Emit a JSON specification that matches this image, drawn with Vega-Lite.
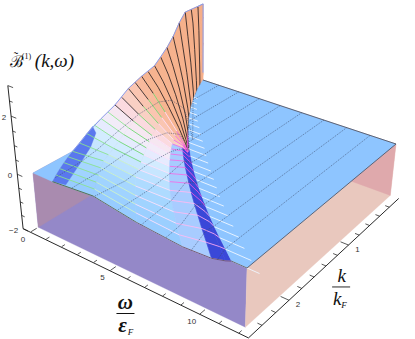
{"$schema":"https://vega.github.io/schema/vega-lite/v6.json","width":415,"height":339,"padding":0,"autosize":"none","background":"white","config":{"view":{"stroke":null}},
"datasets":{"grid":[
{"id":0,"w":0,"k":0,"b":3},{"id":1,"w":0,"k":0,"b":3},{"id":2,"w":0,"k":0,"b":2.5},{"id":3,"w":0,"k":0,"b":1.5},{"id":4,"w":0,"k":0,"b":0.3},{"id":5,"w":0,"k":0,"b":-1},{"id":6,"w":0,"k":0,"b":0},
{"id":100,"w":0,"k":0.1,"b":3},{"id":101,"w":0.05,"k":0.1,"b":3},{"id":102,"w":0.11,"k":0.1,"b":2.1},{"id":103,"w":0.16,"k":0.1,"b":0.8},{"id":104,"w":0.19,"k":0.1,"b":-0.4},{"id":105,"w":0.2,"k":0.1,"b":-1.6},{"id":106,"w":0.21,"k":0.1,"b":0},
{"id":200,"w":0,"k":0.2,"b":3},{"id":201,"w":0.11,"k":0.2,"b":2.5},{"id":202,"w":0.22,"k":0.2,"b":1.5},{"id":203,"w":0.33,"k":0.2,"b":0.3},{"id":204,"w":0.4,"k":0.2,"b":-0.9},{"id":205,"w":0.43,"k":0.2,"b":-1.9},{"id":206,"w":0.44,"k":0.2,"b":0},
{"id":300,"w":0,"k":0.3,"b":3},{"id":301,"w":0.17,"k":0.3,"b":2.1},{"id":302,"w":0.35,"k":0.3,"b":1.15},{"id":303,"w":0.52,"k":0.3,"b":0},{"id":304,"w":0.62,"k":0.3,"b":-1.2},{"id":305,"w":0.67,"k":0.3,"b":-1.9},{"id":306,"w":0.69,"k":0.3,"b":0},
{"id":400,"w":0,"k":0.4,"b":2.7},{"id":401,"w":0.24,"k":0.4,"b":1.8},{"id":402,"w":0.48,"k":0.4,"b":0.9},{"id":403,"w":0.72,"k":0.4,"b":-0.2},{"id":404,"w":0.86,"k":0.4,"b":-1.3},{"id":405,"w":0.93,"k":0.4,"b":-1.85},{"id":406,"w":0.96,"k":0.4,"b":0},
{"id":500,"w":0,"k":0.5,"b":2.3},{"id":501,"w":0.31,"k":0.5,"b":1.55},{"id":502,"w":0.63,"k":0.5,"b":0.72},{"id":503,"w":0.94,"k":0.5,"b":-0.3},{"id":504,"w":1.13,"k":0.5,"b":-1.3},{"id":505,"w":1.21,"k":0.5,"b":-1.75},{"id":506,"w":1.25,"k":0.5,"b":0},
{"id":600,"w":0,"k":0.6,"b":2},{"id":601,"w":0.39,"k":0.6,"b":1.35},{"id":602,"w":0.78,"k":0.6,"b":0.6},{"id":603,"w":1.17,"k":0.6,"b":-0.35},{"id":604,"w":1.4,"k":0.6,"b":-1.2},{"id":605,"w":1.51,"k":0.6,"b":-1.6},{"id":606,"w":1.56,"k":0.6,"b":0},
{"id":700,"w":0,"k":0.7,"b":1.75},{"id":701,"w":0.47,"k":0.7,"b":1.2},{"id":702,"w":0.95,"k":0.7,"b":0.5},{"id":703,"w":1.42,"k":0.7,"b":-0.35},{"id":704,"w":1.7,"k":0.7,"b":-1.05},{"id":705,"w":1.83,"k":0.7,"b":-1.4},{"id":706,"w":1.89,"k":0.7,"b":0},
{"id":800,"w":0,"k":0.8,"b":1.55},{"id":801,"w":0.56,"k":0.8,"b":1.05},{"id":802,"w":1.12,"k":0.8,"b":0.42},{"id":803,"w":1.68,"k":0.8,"b":-0.32},{"id":804,"w":2.02,"k":0.8,"b":-0.9},{"id":805,"w":2.17,"k":0.8,"b":-1.2},{"id":806,"w":2.24,"k":0.8,"b":0},
{"id":900,"w":0,"k":0.9,"b":1.45},{"id":901,"w":0.65,"k":0.9,"b":0.98},{"id":902,"w":1.31,"k":0.9,"b":0.38},{"id":903,"w":1.96,"k":0.9,"b":-0.28},{"id":904,"w":2.35,"k":0.9,"b":-0.75},{"id":905,"w":2.53,"k":0.9,"b":-1},{"id":906,"w":2.61,"k":0.9,"b":0},
{"id":1000,"w":0,"k":1,"b":1.4},{"id":1001,"w":0.75,"k":1,"b":0.9},{"id":1002,"w":1.5,"k":1,"b":0.35},{"id":1003,"w":2.25,"k":1,"b":-0.22},{"id":1004,"w":2.7,"k":1,"b":-0.6},{"id":1005,"w":2.91,"k":1,"b":-0.82},{"id":1006,"w":3,"k":1,"b":0},
{"id":1100,"w":0,"k":1.1,"b":1.3},{"id":1101,"w":0.85,"k":1.1,"b":0.82},{"id":1102,"w":1.71,"k":1.1,"b":0.32},{"id":1103,"w":2.56,"k":1.1,"b":-0.18},{"id":1104,"w":3.07,"k":1.1,"b":-0.4},{"id":1105,"w":3.31,"k":1.1,"b":-0.6},{"id":1106,"w":3.41,"k":1.1,"b":0},
{"id":1200,"w":0,"k":1.2,"b":1.2},{"id":1201,"w":0.96,"k":1.2,"b":0.72},{"id":1202,"w":1.92,"k":1.2,"b":0.28},{"id":1203,"w":2.88,"k":1.2,"b":-0.12},{"id":1204,"w":3.46,"k":1.2,"b":-0.2},{"id":1205,"w":3.72,"k":1.2,"b":-0.35},{"id":1206,"w":3.84,"k":1.2,"b":0},
{"id":1300,"w":0,"k":1.3,"b":1},{"id":1301,"w":1.07,"k":1.3,"b":0.6},{"id":1302,"w":2.15,"k":1.3,"b":0.25},{"id":1303,"w":3.22,"k":1.3,"b":-0.05},{"id":1304,"w":3.86,"k":1.3,"b":-0.05},{"id":1305,"w":4.16,"k":1.3,"b":-0.15},{"id":1306,"w":4.29,"k":1.3,"b":0},
{"id":1400,"w":0,"k":1.4,"b":0.85},{"id":1401,"w":1.19,"k":1.4,"b":0.5},{"id":1402,"w":2.38,"k":1.4,"b":0.22},{"id":1403,"w":3.57,"k":1.4,"b":0},{"id":1404,"w":4.28,"k":1.4,"b":0.08},{"id":1405,"w":4.62,"k":1.4,"b":-0.02},{"id":1406,"w":4.76,"k":1.4,"b":0},
{"id":1500,"w":0,"k":1.5,"b":0.72},{"id":1501,"w":1.31,"k":1.5,"b":0.42},{"id":1502,"w":2.63,"k":1.5,"b":0.2},{"id":1503,"w":3.94,"k":1.5,"b":0.05},{"id":1504,"w":4.73,"k":1.5,"b":0.18},{"id":1505,"w":5.09,"k":1.5,"b":0.05},{"id":1506,"w":5.25,"k":1.5,"b":0},
{"id":1600,"w":0,"k":1.6,"b":0.62},{"id":1601,"w":1.44,"k":1.6,"b":0.35},{"id":1602,"w":2.88,"k":1.6,"b":0.18},{"id":1603,"w":4.32,"k":1.6,"b":0.08},{"id":1604,"w":5.18,"k":1.6,"b":0.24},{"id":1605,"w":5.59,"k":1.6,"b":0.08},{"id":1606,"w":5.76,"k":1.6,"b":0},
{"id":1700,"w":0,"k":1.7,"b":0.53},{"id":1701,"w":1.57,"k":1.7,"b":0.28},{"id":1702,"w":3.15,"k":1.7,"b":0.14},{"id":1703,"w":4.72,"k":1.7,"b":0.1},{"id":1704,"w":5.66,"k":1.7,"b":0.28},{"id":1705,"w":6.1,"k":1.7,"b":0.1},{"id":1706,"w":6.29,"k":1.7,"b":0},
{"id":1800,"w":0,"k":1.8,"b":0.35},{"id":1801,"w":1.71,"k":1.8,"b":0.2},{"id":1802,"w":3.42,"k":1.8,"b":0.1},{"id":1803,"w":5.13,"k":1.8,"b":0.1},{"id":1804,"w":6.16,"k":1.8,"b":0.3},{"id":1805,"w":6.63,"k":1.8,"b":0.12},{"id":1806,"w":6.84,"k":1.8,"b":0},
{"id":1900,"w":0,"k":1.9,"b":0.15},{"id":1901,"w":1.85,"k":1.9,"b":0.15},{"id":1902,"w":3.71,"k":1.9,"b":0.06},{"id":1903,"w":5.56,"k":1.9,"b":0.08},{"id":1904,"w":6.67,"k":1.9,"b":0.3},{"id":1905,"w":7.19,"k":1.9,"b":0.12},{"id":1906,"w":7.41,"k":1.9,"b":0},
{"id":2000,"w":0,"k":2,"b":0},{"id":2001,"w":2,"k":2,"b":0.12},{"id":2002,"w":4,"k":2,"b":0.02},{"id":2003,"w":6,"k":2,"b":0.05},{"id":2004,"w":7.2,"k":2,"b":0.28},{"id":2005,"w":7.76,"k":2,"b":0.12},{"id":2006,"w":8,"k":2,"b":0},
{"id":2100,"w":0.21,"k":2.1,"b":0},{"id":2101,"w":2.31,"k":2.1,"b":0.1},{"id":2102,"w":4.41,"k":2.1,"b":-0.03},{"id":2103,"w":6.51,"k":2.1,"b":0},{"id":2104,"w":7.77,"k":2.1,"b":0.22},{"id":2105,"w":8.36,"k":2.1,"b":0.1},{"id":2106,"w":8.61,"k":2.1,"b":0},
{"id":2200,"w":0.44,"k":2.2,"b":0},{"id":2201,"w":2.64,"k":2.2,"b":0.08},{"id":2202,"w":4.84,"k":2.2,"b":-0.08},{"id":2203,"w":7.04,"k":2.2,"b":-0.08},{"id":2204,"w":8.36,"k":2.2,"b":0.15},{"id":2205,"w":8.98,"k":2.2,"b":0.1},{"id":2206,"w":9.24,"k":2.2,"b":0},
{"id":2300,"w":0.69,"k":2.3,"b":0},{"id":2301,"w":2.99,"k":2.3,"b":0.08},{"id":2302,"w":5.29,"k":2.3,"b":-0.1},{"id":2303,"w":7.59,"k":2.3,"b":-0.15},{"id":2304,"w":8.97,"k":2.3,"b":0.05},{"id":2305,"w":9.61,"k":2.3,"b":0.05},{"id":2306,"w":9.89,"k":2.3,"b":0},
{"id":2400,"w":0.96,"k":2.4,"b":0},{"id":2401,"w":3.36,"k":2.4,"b":0.1},{"id":2402,"w":5.76,"k":2.4,"b":-0.1},{"id":2403,"w":8.16,"k":2.4,"b":-0.2},{"id":2404,"w":9.6,"k":2.4,"b":-0.05},{"id":2405,"w":10.27,"k":2.4,"b":0},{"id":2406,"w":10.56,"k":2.4,"b":0},
{"id":2500,"w":1.25,"k":2.5,"b":0},{"id":2501,"w":3.75,"k":2.5,"b":0.13},{"id":2502,"w":6.25,"k":2.5,"b":-0.12},{"id":2503,"w":8.75,"k":2.5,"b":-0.25},{"id":2504,"w":10.25,"k":2.5,"b":-0.2},{"id":2505,"w":10.95,"k":2.5,"b":-0.08},{"id":2506,"w":11.25,"k":2.5,"b":0}
],
"rest":[
{"part":"front","o":1,"w":0,"k":2.5,"b":0},{"part":"front","o":2,"w":1.25,"k":2.5,"b":0},{"part":"front","o":3,"w":3.75,"k":2.5,"b":0.13},{"part":"front","o":4,"w":6.25,"k":2.5,"b":-0.12},{"part":"front","o":5,"w":8.75,"k":2.5,"b":-0.25},{"part":"front","o":6,"w":10.25,"k":2.5,"b":-0.2},{"part":"front","o":7,"w":10.95,"k":2.5,"b":-0.08},{"part":"front","o":8,"w":11.25,"k":2.5,"b":0},{"part":"front","o":9,"w":12,"k":2.5,"b":0},{"part":"front","o":10,"w":12,"k":2.5,"b":-2},{"part":"front","o":11,"w":0,"k":2.5,"b":-2},
{"part":"right","o":1,"w":12,"k":2.5,"b":0},{"part":"right","o":2,"w":12,"k":0,"b":0},{"part":"right","o":3,"w":12,"k":0,"b":-2},{"part":"right","o":4,"w":12,"k":2.5,"b":-2},
{"part":"mauve","o":1,"w":0,"k":2.5,"b":0},{"part":"mauve","o":2,"w":0,"k":2.5,"b":-2},{"part":"mauve","o":3,"w":0,"k":0,"b":-2},{"part":"mauve","o":4,"w":0,"k":0,"b":0},
{"part":"pink","o":1,"w":12,"k":0,"b":0},{"part":"pink","o":2,"w":12,"k":0,"b":-2},{"part":"pink","o":3,"w":0,"k":0,"b":-2},{"part":"pink","o":4,"w":0,"k":0,"b":0},
{"part":"pleft","o":1,"w":0,"k":2.5,"b":0},{"part":"pleft","o":2,"w":1.25,"k":2.5,"b":0},{"part":"pleft","o":3,"w":0.96,"k":2.4,"b":0},{"part":"pleft","o":4,"w":0.69,"k":2.3,"b":0},{"part":"pleft","o":5,"w":0.44,"k":2.2,"b":0},{"part":"pleft","o":6,"w":0.21,"k":2.1,"b":0},{"part":"pleft","o":7,"w":0,"k":2,"b":0},
{"part":"hump","o":1,"w":1.25,"k":2.5,"b":0},{"part":"hump","o":2,"w":2.1,"k":2.5,"b":0.1},{"part":"hump","o":3,"w":1.6,"k":2.3,"b":0.08},{"part":"hump","o":4,"w":1.1,"k":2.1,"b":0.06},{"part":"hump","o":5,"w":0.7,"k":1.9,"b":0.16},{"part":"hump","o":6,"w":0.35,"k":1.75,"b":0.38},{"part":"hump","o":7,"w":0,"k":1.72,"b":0.5},{"part":"hump","o":8,"w":0,"k":1.8,"b":0.35},{"part":"hump","o":9,"w":0,"k":1.9,"b":0.15},{"part":"hump","o":10,"w":0,"k":2,"b":0},{"part":"hump","o":11,"w":0.21,"k":2.1,"b":0},{"part":"hump","o":12,"w":0.44,"k":2.2,"b":0},{"part":"hump","o":13,"w":0.69,"k":2.3,"b":0},{"part":"hump","o":14,"w":0.96,"k":2.4,"b":0},
{"part":"plane","o":1,"w":0,"k":0,"b":0},{"part":"plane","o":2,"w":12,"k":0,"b":0},{"part":"plane","o":3,"w":12,"k":2.5,"b":0},{"part":"plane","o":4,"w":11.25,"k":2.5,"b":0},{"part":"plane","o":5,"w":9.24,"k":2.2,"b":0},{"part":"plane","o":6,"w":8,"k":2,"b":0},{"part":"plane","o":7,"w":6.84,"k":1.8,"b":0},{"part":"plane","o":8,"w":5.76,"k":1.6,"b":0},{"part":"plane","o":9,"w":4.76,"k":1.4,"b":0},{"part":"plane","o":10,"w":3.84,"k":1.2,"b":0},{"part":"plane","o":11,"w":3,"k":1,"b":0},{"part":"plane","o":12,"w":2.24,"k":0.8,"b":0},{"part":"plane","o":13,"w":1.56,"k":0.6,"b":0},{"part":"plane","o":14,"w":0.96,"k":0.4,"b":0},{"part":"plane","o":15,"w":0.44,"k":0.2,"b":0},
{"part":"sil","o":1,"w":0,"k":2,"b":0},{"part":"sil","o":2,"w":0,"k":1.8,"b":0.35},{"part":"sil","o":3,"w":0,"k":1.6,"b":0.62},{"part":"sil","o":4,"w":0,"k":1.4,"b":0.85},{"part":"sil","o":5,"w":0,"k":1.2,"b":1.2},{"part":"sil","o":6,"w":0,"k":1,"b":1.4},{"part":"sil","o":7,"w":0,"k":0.8,"b":1.55},{"part":"sil","o":8,"w":0,"k":0.6,"b":2},{"part":"sil","o":9,"w":0,"k":0.5,"b":2.3},{"part":"sil","o":10,"w":0,"k":0.4,"b":2.7},{"part":"sil","o":11,"w":0,"k":0.3,"b":3},{"part":"sil","o":12,"w":0,"k":0,"b":3},{"part":"sil","o":13,"w":0,"k":0,"b":0.3},
{"part":"dash","w":0.96,"k":0.4,"b":0,"w2":1.2},{"part":"dash","w":1.25,"k":0.5,"b":0,"w2":1.55},{"part":"dash","w":1.56,"k":0.6,"b":0,"w2":1.95},{"part":"dash","w":1.89,"k":0.7,"b":0,"w2":2.35},{"part":"dash","w":2.24,"k":0.8,"b":0,"w2":2.8},{"part":"dash","w":2.61,"k":0.9,"b":0,"w2":3.3},{"part":"dash","w":3,"k":1,"b":0,"w2":3.8},{"part":"dash","w":3.41,"k":1.1,"b":0,"w2":4.3},{"part":"dash","w":3.84,"k":1.2,"b":0,"w2":4.8},{"part":"dash","w":4.29,"k":1.3,"b":0,"w2":5.3},{"part":"dash","w":4.76,"k":1.4,"b":0,"w2":5.8},{"part":"dash","w":5.25,"k":1.5,"b":0,"w2":6.35},{"part":"dash","w":5.76,"k":1.6,"b":0,"w2":6.9},{"part":"dash","w":6.29,"k":1.7,"b":0,"w2":7.45},{"part":"dash","w":6.84,"k":1.8,"b":0,"w2":8},{"part":"dash","w":7.41,"k":1.9,"b":0,"w2":8.6},{"part":"dash","w":8,"k":2,"b":0,"w2":9.2},{"part":"dash","w":8.61,"k":2.1,"b":0,"w2":9.85},{"part":"dash","w":9.24,"k":2.2,"b":0,"w2":10.5},{"part":"dash","w":9.89,"k":2.3,"b":0,"w2":11.15},{"part":"dash","w":10.56,"k":2.4,"b":0,"w2":11.85},{"part":"dash","w":11.25,"k":2.5,"b":0,"w2":12.6},
{"part":"wline","w":1.1,"k":0,"b":0},{"part":"wline","w":1.1,"k":0.45,"b":0},{"part":"wline","w":1.1,"k":0.46,"b":-1.6},{"part":"wline","w":1.1,"k":0.5,"b":-1.1},{"part":"wline","w":1.1,"k":0.6,"b":-0.15},{"part":"wline","w":1.1,"k":0.8,"b":0.45},{"part":"wline","w":1.1,"k":1,"b":0.65},{"part":"wline","w":1.1,"k":1.3,"b":0.6},{"part":"wline","w":1.1,"k":1.6,"b":0.4},{"part":"wline","w":1.1,"k":1.9,"b":0.15},{"part":"wline","w":1.1,"k":2.1,"b":0.05},{"part":"wline","w":1.1,"k":2.44,"b":0},
{"part":"wline","w":2.45,"k":0,"b":0},{"part":"wline","w":2.45,"k":0.86,"b":0},{"part":"wline","w":2.45,"k":0.87,"b":-1.1},{"part":"wline","w":2.45,"k":0.9,"b":-0.85},{"part":"wline","w":2.45,"k":1,"b":-0.3},{"part":"wline","w":2.45,"k":1.2,"b":0.05},{"part":"wline","w":2.45,"k":1.5,"b":0.22},{"part":"wline","w":2.45,"k":1.8,"b":0.17},{"part":"wline","w":2.45,"k":2.1,"b":0.08},{"part":"wline","w":2.45,"k":2.5,"b":0.07},
{"part":"wline","w":3.8,"k":0,"b":0},{"part":"wline","w":3.8,"k":1.19,"b":0},{"part":"wline","w":3.8,"k":1.2,"b":-0.3},{"part":"wline","w":3.8,"k":1.25,"b":-0.2},{"part":"wline","w":3.8,"k":1.35,"b":-0.03},{"part":"wline","w":3.8,"k":1.5,"b":0.06},{"part":"wline","w":3.8,"k":1.8,"b":0.1},{"part":"wline","w":3.8,"k":2.1,"b":0},{"part":"wline","w":3.8,"k":2.5,"b":0.12},
{"part":"wline","w":5.15,"k":0,"b":0},{"part":"wline","w":5.15,"k":1.48,"b":0},{"part":"wline","w":5.15,"k":1.6,"b":0.22},{"part":"wline","w":5.15,"k":1.8,"b":0.1},{"part":"wline","w":5.15,"k":2.1,"b":0},{"part":"wline","w":5.15,"k":2.5,"b":0},
{"part":"wline","w":6.5,"k":0,"b":0},{"part":"wline","w":6.5,"k":1.74,"b":0},{"part":"wline","w":6.5,"k":1.9,"b":0.3},{"part":"wline","w":6.5,"k":2.1,"b":0},{"part":"wline","w":6.5,"k":2.5,"b":-0.14},
{"part":"wline","w":7.85,"k":0,"b":0},{"part":"wline","w":7.85,"k":1.97,"b":0},{"part":"wline","w":7.85,"k":2.1,"b":0.2},{"part":"wline","w":7.85,"k":2.3,"b":-0.12},{"part":"wline","w":7.85,"k":2.5,"b":-0.2},
{"part":"wline","w":9.2,"k":0,"b":0},{"part":"wline","w":9.2,"k":2.19,"b":0},{"part":"wline","w":9.2,"k":2.3,"b":0.05},{"part":"wline","w":9.2,"k":2.5,"b":-0.24},
{"part":"wline","w":10.55,"k":0,"b":0},{"part":"wline","w":10.55,"k":2.4,"b":0},{"part":"wline","w":10.55,"k":2.5,"b":-0.15},
{"part":"edge","o":1,"w":1.25,"k":2.5,"b":0},{"part":"edge","o":2,"w":3.75,"k":2.5,"b":0.13},{"part":"edge","o":3,"w":6.25,"k":2.5,"b":-0.12},{"part":"edge","o":4,"w":8.75,"k":2.5,"b":-0.25},{"part":"edge","o":5,"w":10.25,"k":2.5,"b":-0.2},{"part":"edge","o":6,"w":10.95,"k":2.5,"b":-0.08},{"part":"edge","o":7,"w":11.25,"k":2.5,"b":0},{"part":"edge","o":8,"w":12,"k":2.5,"b":0},{"part":"edge","o":9,"w":12,"k":0,"b":0},{"part":"edge","o":10,"w":0,"k":0,"b":0},
{"part":"axis","o":1,"w":-0.48,"k":2.6,"b":3},{"part":"axis","o":2,"w":-0.48,"k":2.6,"b":-2},{"part":"axis","o":3,"w":12.48,"k":2.59,"b":-2},{"part":"axis","o":4,"w":12.48,"k":0,"b":-2},
{"part":"tick","w":0,"k":2.59,"b":-2,"k2":2.52},{"part":"tick","w":1,"k":2.59,"b":-2,"k2":2.55},{"part":"tick","w":2,"k":2.59,"b":-2,"k2":2.55},{"part":"tick","w":3,"k":2.59,"b":-2,"k2":2.55},{"part":"tick","w":4,"k":2.59,"b":-2,"k2":2.55},{"part":"tick","w":5,"k":2.59,"b":-2,"k2":2.52},{"part":"tick","w":6,"k":2.59,"b":-2,"k2":2.55},{"part":"tick","w":7,"k":2.59,"b":-2,"k2":2.55},{"part":"tick","w":8,"k":2.59,"b":-2,"k2":2.55},{"part":"tick","w":9,"k":2.59,"b":-2,"k2":2.55},{"part":"tick","w":10,"k":2.59,"b":-2,"k2":2.52},{"part":"tick","w":11,"k":2.59,"b":-2,"k2":2.55},{"part":"tick","w":12,"k":2.59,"b":-2,"k2":2.55},
{"part":"tick","w":12.48,"k":0.2,"b":-2,"w2":12.25},{"part":"tick","w":12.48,"k":0.4,"b":-2,"w2":12.25},{"part":"tick","w":12.48,"k":0.6,"b":-2,"w2":12.25},{"part":"tick","w":12.48,"k":0.8,"b":-2,"w2":12.25},{"part":"tick","w":12.48,"k":1,"b":-2,"w2":12.05},{"part":"tick","w":12.48,"k":1.2,"b":-2,"w2":12.25},{"part":"tick","w":12.48,"k":1.4,"b":-2,"w2":12.25},{"part":"tick","w":12.48,"k":1.6,"b":-2,"w2":12.25},{"part":"tick","w":12.48,"k":1.8,"b":-2,"w2":12.25},{"part":"tick","w":12.48,"k":2,"b":-2,"w2":12.05},{"part":"tick","w":12.48,"k":2.2,"b":-2,"w2":12.25},{"part":"tick","w":12.48,"k":2.4,"b":-2,"w2":12.25},
{"part":"tick","w":-0.48,"k":2.6,"b":-2,"w2":-0.15},{"part":"tick","w":-0.48,"k":2.6,"b":-1.5,"w2":-0.28},{"part":"tick","w":-0.48,"k":2.6,"b":-1,"w2":-0.28},{"part":"tick","w":-0.48,"k":2.6,"b":-0.5,"w2":-0.28},{"part":"tick","w":-0.48,"k":2.6,"b":0,"w2":-0.15},{"part":"tick","w":-0.48,"k":2.6,"b":0.5,"w2":-0.28},{"part":"tick","w":-0.48,"k":2.6,"b":1,"w2":-0.28},{"part":"tick","w":-0.48,"k":2.6,"b":1.5,"w2":-0.28},{"part":"tick","w":-0.48,"k":2.6,"b":2,"w2":-0.15},{"part":"tick","w":-0.48,"k":2.6,"b":2.5,"w2":-0.28},{"part":"tick","w":-0.48,"k":2.6,"b":3,"w2":-0.15},
{"part":"zlab","w":-0.48,"k":2.6,"b":2,"label":"2"},{"part":"zlab","w":-0.48,"k":2.6,"b":0,"label":"0"},{"part":"zlab","w":-0.48,"k":2.6,"b":-2,"label":"−2"},
{"part":"wlab","w":0,"k":2.59,"b":-2,"label":"0"},{"part":"wlab","w":5,"k":2.59,"b":-2,"label":"5"},{"part":"wlab","w":10,"k":2.59,"b":-2,"label":"10"},
{"part":"klab","w":12.48,"k":1,"b":-2,"label":"1"},{"part":"klab","w":12.48,"k":2,"b":-2,"label":"2"},
{"part":"top","w":-0.48,"k":2.6,"b":3},
{"part":"wbar","w":7.51,"k":2.947,"b":-2},{"part":"kbar","w":13.8,"k":1.58,"b":-2}
]},
"data":{"name":"rest"},
"transform":[
{"calculate":"1-0.0095*datum.w-0.071*datum.k-0.01343*datum.b","as":"den"},
{"calculate":"(12.322*datum.w-70.344*datum.k+203-2.695*datum.b)/datum.den","as":"px"},
{"calculate":"(3.965*datum.w+24.916*datum.k+80-25.385*datum.b)/datum.den","as":"py"},
{"calculate":"isValid(datum.w2)?datum.w2:datum.w","as":"W2"},
{"calculate":"isValid(datum.k2)?datum.k2:datum.k","as":"K2"},
{"calculate":"1-0.0095*datum.W2-0.071*datum.K2-0.01343*datum.b","as":"den2"},
{"calculate":"(12.322*datum.W2-70.344*datum.K2+203-2.695*datum.b)/datum.den2","as":"px2"},
{"calculate":"(3.965*datum.W2+24.916*datum.K2+80-25.385*datum.b)/datum.den2","as":"py2"}
],
"encoding":{"x":{"field":"px","type":"quantitative","scale":{"domain":[0,415]},"axis":null},"y":{"field":"py","type":"quantitative","scale":{"domain":[339,0]},"axis":null}},
"layer":[
{"transform":[{"filter":"indexof(['front','right','mauve','pink','pleft'],datum.part)>=0"}],"mark":{"type":"line","interpolate":"linear-closed","strokeWidth":0.3},"encoding":{"detail":{"field":"part"},"order":{"field":"o","type":"quantitative"},"fill":{"field":"part","type":"nominal","scale":{"domain":["front","right","mauve","pink","pleft"],"range":["#9488C8","#E9C8BE","#A98BAF","#DFA9AC","#8EC5FF"]},"legend":null},"stroke":{"field":"part","type":"nominal","scale":{"domain":["front","right","mauve","pink","pleft"],"range":["#9488C8","#E9C8BE","#A98BAF","#DFA9AC","#8EC5FF"]},"legend":null}}},
{"data":{"name":"grid"},"transform":[
{"calculate":"datum.id+1","as":"n1"},{"calculate":"datum.id+100","as":"n2"},{"calculate":"datum.id+101","as":"n3"},
{"lookup":"n1","from":{"data":{"name":"grid"},"key":"id","fields":["w","k","b"]},"as":["w1","k1","b1"]},
{"lookup":"n2","from":{"data":{"name":"grid"},"key":"id","fields":["w","k","b"]},"as":["w2","k2","b2"]},
{"lookup":"n3","from":{"data":{"name":"grid"},"key":"id","fields":["w","k","b"]},"as":["w3","k3","b3"]},
{"filter":"isValid(datum.w3)"},
{"calculate":"datum.id%100","as":"j"},
{"calculate":"(datum.b+datum.b1+datum.b2+datum.b3)/4","as":"mb"},
{"calculate":"(datum.j>=4&&datum.k>=1.25)?-1:((datum.j==3&&datum.k>=1.3)?-0.01:(datum.mb>=2.95?-0.5:datum.k))","as":"t"},
{"calculate":"[datum.w,datum.w1,datum.w3,datum.w2]","as":"cw"},{"calculate":"[datum.k,datum.k1,datum.k3,datum.k2]","as":"ck"},{"calculate":"[datum.b,datum.b1,datum.b3,datum.b2]","as":"cb"},{"calculate":"[0,1,2,3]","as":"co"},
{"flatten":["cw","ck","cb","co"],"as":["W","K","B","O"]},
{"calculate":"1-0.0095*datum.W-0.071*datum.K-0.01343*datum.B","as":"den"},
{"calculate":"(12.322*datum.W-70.344*datum.K+203-2.695*datum.B)/datum.den","as":"px"},
{"calculate":"(3.965*datum.W+24.916*datum.K+80-25.385*datum.B)/datum.den","as":"py"}
],"mark":{"type":"line","interpolate":"linear-closed","strokeWidth":0.7},"encoding":{"detail":{"field":"id"},"order":{"field":"O","type":"quantitative"},
"fill":{"field":"t","type":"quantitative","scale":{"domain":[-1,-0.5,-0.01,0,0.95,1.2,1.45,1.7,2.05,2.5],"range":["#3A48D8","#6C90F5","#A8CCFF","#F5AE88","#F7B592","#F9D0C4","#F5EEF5","#D3ECFF","#A8D8FF","#92C8FF"]},"legend":null},
"stroke":{"field":"t","type":"quantitative","scale":{"domain":[-1,-0.5,-0.01,0,0.95,1.2,1.45,1.7,2.05,2.5],"range":["#3A48D8","#6C90F5","#A8CCFF","#F5AE88","#F7B592","#F9D0C4","#F5EEF5","#D3ECFF","#A8D8FF","#92C8FF"]},"legend":null}}},
{"transform":[{"filter":"datum.part=='hump'"}],"mark":{"type":"line","interpolate":"linear-closed","strokeWidth":0.4,"stroke":"#5A78EE"},"encoding":{"order":{"field":"o","type":"quantitative"},"fill":{"value":"#5A78EE"}}},
{"data":{"name":"grid"},"transform":[
{"calculate":"datum.id+1","as":"n1"},
{"lookup":"n1","from":{"data":{"name":"grid"},"key":"id","fields":["w","k","b"]},"as":["w1","k1","b1"]},
{"filter":"isValid(datum.w1)&&datum.k>0.05"},
{"calculate":"datum.id%100","as":"j"},
{"calculate":"datum.k<1?'#2A2020':(datum.j==0?(datum.k<1.5?'#2A2020':'#8BE58B'):(datum.j==1?(datum.k<1.9?'#6FD96F':'#CFF5C5'):(datum.j==2?'#FFE0FA':(datum.j==3?(datum.k<2?'#F26CE6':'#FFB8F2'):(datum.k<2.1?'#EE50E0':'#FFA8F2')))))","as":"m"},
{"calculate":"1-0.0095*datum.w-0.071*datum.k-0.01343*datum.b","as":"den"},
{"calculate":"(12.322*datum.w-70.344*datum.k+203-2.695*datum.b)/datum.den","as":"px"},
{"calculate":"(3.965*datum.w+24.916*datum.k+80-25.385*datum.b)/datum.den","as":"py"},
{"calculate":"1-0.0095*datum.w1-0.071*datum.k1-0.01343*datum.b1","as":"den2"},
{"calculate":"(12.322*datum.w1-70.344*datum.k1+203-2.695*datum.b1)/datum.den2","as":"px2"},
{"calculate":"(3.965*datum.w1+24.916*datum.k1+80-25.385*datum.b1)/datum.den2","as":"py2"}
],"mark":{"type":"rule","strokeWidth":1,"opacity":0.85},"encoding":{"x2":{"field":"px2"},"y2":{"field":"py2"},"color":{"field":"m","type":"nominal","scale":null}}},
{"transform":[{"filter":"datum.part=='plane'"}],"mark":{"type":"line","interpolate":"linear-closed","strokeWidth":0.5,"stroke":"#8EC5FF"},"encoding":{"order":{"field":"o","type":"quantitative"},"fill":{"value":"#8EC5FF"}}},
{"transform":[{"filter":"datum.part=='dash'"}],"mark":{"type":"rule","stroke":"#EEF6FF","strokeWidth":1,"opacity":0.9},"encoding":{"x2":{"field":"px2"},"y2":{"field":"py2"}}},
{"transform":[{"filter":"datum.part=='wline'"}],"mark":{"type":"line","stroke":"#3C4A6A","strokeWidth":0.7,"strokeDash":[1.2,1],"opacity":0.8},"encoding":{"detail":{"field":"w"},"order":{"field":"k","type":"quantitative"}}},
{"transform":[{"filter":"datum.part=='sil'"}],"mark":{"type":"line","stroke":"#8A9AE8","strokeWidth":1},"encoding":{"order":{"field":"o","type":"quantitative"}}},
{"transform":[{"filter":"datum.part=='edge'"}],"mark":{"type":"line","stroke":"#4A4A55","strokeWidth":0.8},"encoding":{"order":{"field":"o","type":"quantitative"}}},
{"transform":[{"filter":"datum.part=='axis'"}],"mark":{"type":"line","stroke":"#111","strokeWidth":0.9},"encoding":{"order":{"field":"o","type":"quantitative"}}},
{"transform":[{"filter":"datum.part=='tick'"}],"mark":{"type":"rule","stroke":"#111","strokeWidth":0.7},"encoding":{"x2":{"field":"px2"},"y2":{"field":"py2"}}},
{"transform":[{"filter":"datum.part=='zlab'"}],"mark":{"type":"text","font":"Liberation Sans","fontSize":8,"align":"right","dx":-5,"dy":4,"baseline":"alphabetic","fill":"#333"},"encoding":{"text":{"field":"label"}}},
{"transform":[{"filter":"datum.part=='wlab'"}],"mark":{"type":"text","font":"Liberation Sans","fontSize":8,"align":"center","dx":-8,"dy":10,"baseline":"alphabetic","fill":"#333"},"encoding":{"text":{"field":"label"}}},
{"transform":[{"filter":"datum.part=='klab'"}],"mark":{"type":"text","font":"Liberation Sans","fontSize":8,"align":"center","dx":9,"dy":7,"baseline":"alphabetic","fill":"#333"},"encoding":{"text":{"field":"label"}}},
{"transform":[{"filter":"datum.part=='top'"}],"mark":{"type":"text","font":"DejaVu Serif","fontSize":16,"align":"left","dx":2,"dy":-19,"baseline":"alphabetic","fill":"#111","text":"ℬ"}},
{"transform":[{"filter":"datum.part=='top'"}],"mark":{"type":"text","font":"Liberation Serif","fontSize":13,"align":"left","dx":6,"dy":-25,"baseline":"alphabetic","fill":"#111","text":"˜"}},
{"transform":[{"filter":"datum.part=='top'"}],"mark":{"type":"text","font":"Liberation Serif","fontSize":8,"align":"left","dx":14,"dy":-27,"baseline":"alphabetic","fill":"#111","text":"(1)"}},
{"transform":[{"filter":"datum.part=='top'"}],"mark":{"type":"text","font":"Liberation Serif","fontStyle":"italic","fontSize":19,"align":"left","dx":27,"dy":-19,"baseline":"alphabetic","fill":"#111","text":"(k,ω)"}},
{"transform":[{"filter":"datum.part=='wbar'||datum.part=='kbar'"}],"mark":{"type":"tick","orient":"horizontal","size":18,"thickness":0.9,"color":"#111","opacity":1}},
{"transform":[{"filter":"datum.part=='wbar'"}],"mark":{"type":"text","font":"Liberation Serif","fontStyle":"italic","fontWeight":"bold","fontSize":21,"align":"center","dx":0,"dy":-5,"baseline":"alphabetic","fill":"#111","text":"ω"}},
{"transform":[{"filter":"datum.part=='wbar'"}],"mark":{"type":"text","font":"Liberation Serif","fontStyle":"italic","fontWeight":"bold","fontSize":21,"align":"center","dx":-3,"dy":18,"baseline":"alphabetic","fill":"#111","text":"ε"}},
{"transform":[{"filter":"datum.part=='wbar'"}],"mark":{"type":"text","font":"Liberation Serif","fontStyle":"italic","fontSize":9,"align":"center","dx":5,"dy":21,"baseline":"alphabetic","fill":"#111","text":"F"}},
{"transform":[{"filter":"datum.part=='kbar'"}],"mark":{"type":"text","font":"Liberation Serif","fontStyle":"italic","fontSize":19,"align":"center","dx":0.5,"dy":-5,"baseline":"alphabetic","fill":"#111","text":"k"}},
{"transform":[{"filter":"datum.part=='kbar'"}],"mark":{"type":"text","font":"Liberation Serif","fontStyle":"italic","fontSize":19,"align":"center","dx":-4,"dy":18,"baseline":"alphabetic","fill":"#111","text":"k"}},
{"transform":[{"filter":"datum.part=='kbar'"}],"mark":{"type":"text","font":"Liberation Serif","fontStyle":"italic","fontSize":9,"align":"center","dx":3,"dy":21,"baseline":"alphabetic","fill":"#111","text":"F"}}
]}
